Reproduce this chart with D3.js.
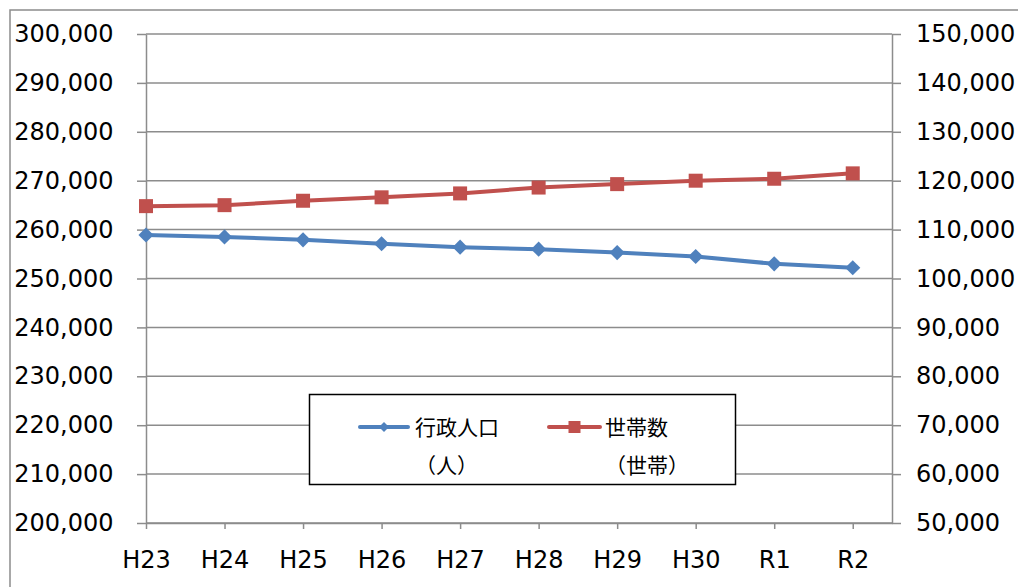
<!DOCTYPE html>
<html><head><meta charset="utf-8">
<script src="https://cdn.jsdelivr.net/npm/d3@7"></script>
<style>
html,body{margin:0;padding:0;background:#fff;}
svg{display:block;}
text{font-family:"DejaVu Sans",Verdana,sans-serif;fill:#000;}
.cjk{font-family:"Noto Sans CJK JP","Noto Sans",sans-serif;}
</style></head>
<body>
<script>
const categories = ["H23","H24","H25","H26","H27","H28","H29","H30","R1","R2"];
const population = [258900,258500,257900,257100,256400,256000,255300,254500,253000,252200];
const households = [114800,115000,115900,116600,117400,118600,119300,120000,120400,121500];
const leftTicks = [200000,210000,220000,230000,240000,250000,260000,270000,280000,290000,300000];
const rightTicks = [50000,60000,70000,80000,90000,100000,110000,120000,130000,140000,150000];
const seriesNames = [["行政人口","（人）"],["世帯数","（世帯）"]];
const colors = ["#4F81BD","#C0504D"];

const W = 1018, H = 587;
const plot = {left:146, right:892, top:34, bottom:523};
const svg = d3.select("body").append("svg").attr("width",W).attr("height",H);

// outer border
svg.append("rect").attr("x",10).attr("y",10).attr("width",1100).attr("height",700)
  .attr("fill","none").attr("stroke","#8c8c8c").attr("stroke-width",1.5);

const x = d3.scaleLinear().domain([0, categories.length - 0.5]).range([plot.left, plot.right]);
const yL = d3.scaleLinear().domain([200000,300000]).range([plot.bottom, plot.top]);
const yR = d3.scaleLinear().domain([50000,150000]).range([plot.bottom, plot.top]);
const fmt = d3.format(",");
const gridColor = "#8c8c8c";

// gridlines
svg.append("g").selectAll("line").data(leftTicks).join("line")
  .attr("x1",plot.left).attr("x2",plot.right)
  .attr("y1",d=>yL(d)).attr("y2",d=>yL(d))
  .attr("stroke",gridColor).attr("stroke-width",1.5);

// left axis
const gL = svg.append("g").attr("transform",`translate(${plot.left},0)`)
  .call(d3.axisLeft(yL).tickValues(leftTicks).tickFormat(fmt).tickSize(9).tickSizeOuter(0).tickPadding(23.5));
gL.select(".domain").attr("stroke",gridColor).attr("stroke-width",1.5);
gL.selectAll(".tick line").attr("stroke",gridColor).attr("stroke-width",1.5);
gL.selectAll("text").attr("font-size",24).attr("font-family","DejaVu Sans").attr("fill","#000");

// right axis
const gR = svg.append("g").attr("transform",`translate(${plot.right},0)`)
  .call(d3.axisRight(yR).tickValues(rightTicks).tickFormat(fmt).tickSize(9).tickSizeOuter(0).tickPadding(15));
gR.select(".domain").attr("stroke",gridColor).attr("stroke-width",1.5);
gR.selectAll(".tick line").attr("stroke",gridColor).attr("stroke-width",1.5);
gR.selectAll("text").attr("font-size",24).attr("font-family","DejaVu Sans").attr("fill","#000");

// bottom axis
const gB = svg.append("g").attr("transform",`translate(0,${plot.bottom})`)
  .call(d3.axisBottom(x).tickValues(d3.range(categories.length)).tickFormat(i=>categories[i])
    .tickSize(6).tickSizeOuter(0).tickPadding(22));
gB.select(".domain").attr("stroke",gridColor).attr("stroke-width",1.5);
gB.selectAll(".tick line").attr("stroke",gridColor).attr("stroke-width",1.5);
gB.selectAll("text").attr("font-size",24).attr("font-family","DejaVu Sans").attr("fill","#000");

// lines
const lineL = d3.line().x((d,i)=>x(i)).y(d=>yL(d));
const lineR = d3.line().x((d,i)=>x(i)).y(d=>yR(d));
svg.append("path").datum(households).attr("d",lineR).attr("fill","none")
  .attr("stroke",colors[1]).attr("stroke-width",4).attr("stroke-linejoin","round");
svg.append("g").selectAll("rect").data(households).join("rect")
  .attr("x",(d,i)=>x(i)-7).attr("y",d=>yR(d)-7).attr("width",14).attr("height",14)
  .attr("fill",colors[1]);
svg.append("path").datum(population).attr("d",lineL).attr("fill","none")
  .attr("stroke",colors[0]).attr("stroke-width",4).attr("stroke-linejoin","round");
svg.append("g").selectAll("path").data(population).join("path")
  .attr("d",d3.symbol().type(d3.symbolSquare).size(115)())
  .attr("transform",(d,i)=>`translate(${x(i)},${yL(d)}) rotate(45)`)
  .attr("fill",colors[0]);

// legend
const lg = svg.append("g");
lg.append("rect").attr("x",309.5).attr("y",394.5).attr("width",426).attr("height",90)
  .attr("fill","#fff").attr("stroke","#000").attr("stroke-width",1.5);
const items = [
  {x1:360,x2:408,tx:415,marker:"diamond"},
  {x1:549,x2:600,tx:605,marker:"square"}
];
items.forEach((it,k)=>{
  lg.append("line").attr("x1",it.x1).attr("x2",it.x2).attr("y1",427).attr("y2",427)
    .attr("stroke",colors[k]).attr("stroke-width",4).attr("stroke-linecap","round");
  const cx=(it.x1+it.x2)/2;
  if(it.marker==="square"){
    lg.append("rect").attr("x",cx-6).attr("y",421).attr("width",12).attr("height",12).attr("fill",colors[k]);
  } else {
    lg.append("path").attr("d",d3.symbol().type(d3.symbolSquare).size(50)())
      .attr("transform",`translate(${cx},427) rotate(45)`).attr("fill",colors[k]);
  }
  lg.append("text").attr("class","cjk").attr("x",it.tx).attr("y",435).attr("font-size",21).text(seriesNames[k][0]);
  lg.append("text").attr("class","cjk").attr("x",it.tx).attr("y",473).attr("font-size",21).text(seriesNames[k][1]);
});
</script>
</body></html>
